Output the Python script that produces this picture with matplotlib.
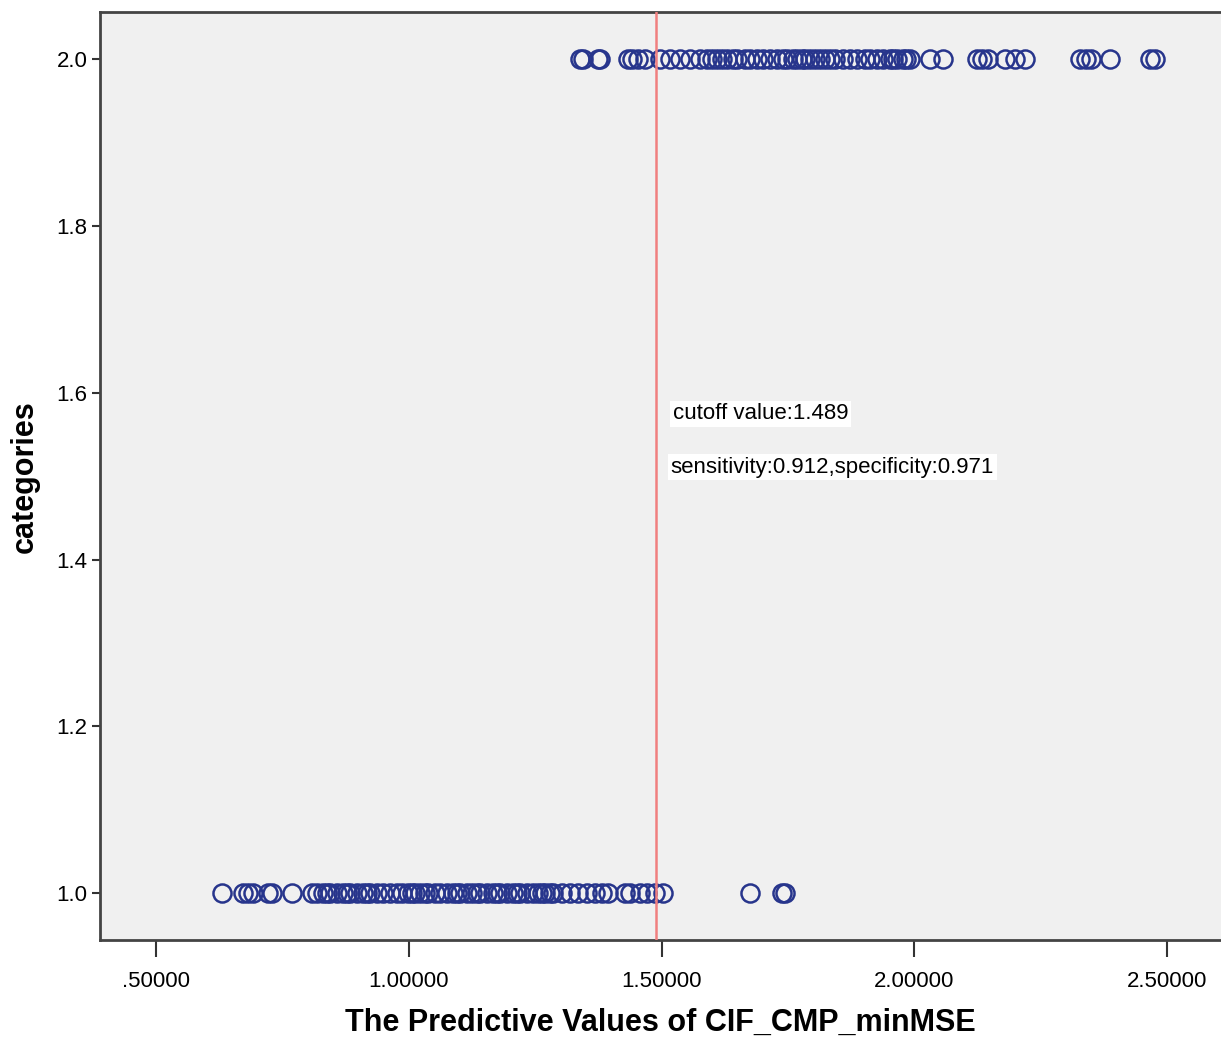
import matplotlib
matplotlib.use("Agg")
import matplotlib.pyplot as plt

# =====================================================
# DATA — values
# =====================================================
group2_values = [
    1.339, 1.345, 1.374, 1.378, 1.434, 1.442, 1.453, 1.467, 1.497, 1.517,
    1.537, 1.556, 1.576, 1.590, 1.600, 1.610, 1.620, 1.630, 1.642, 1.650,
    1.665, 1.675, 1.689, 1.701, 1.715, 1.729, 1.741, 1.749, 1.760, 1.768,
    1.778, 1.784, 1.794, 1.804, 1.814, 1.824, 1.834, 1.844, 1.859, 1.873,
    1.887, 1.903, 1.913, 1.927, 1.939, 1.952, 1.958, 1.966, 1.978, 1.984,
    1.992, 2.032, 2.057, 2.125, 2.135, 2.145, 2.180, 2.200, 2.220, 2.329,
    2.339, 2.349, 2.388, 2.467, 2.477,
]
group1_values = [
    0.630, 0.671, 0.681, 0.691, 0.721, 0.729, 0.768, 0.808, 0.818, 0.830,
    0.838, 0.844, 0.857, 0.869, 0.877, 0.883, 0.897, 0.909, 0.917, 0.923,
    0.937, 0.949, 0.962, 0.976, 0.986, 0.998, 1.006, 1.012, 1.022, 1.032,
    1.038, 1.051, 1.061, 1.075, 1.087, 1.095, 1.101, 1.115, 1.125, 1.135,
    1.141, 1.154, 1.166, 1.174, 1.180, 1.194, 1.206, 1.214, 1.220, 1.234,
    1.246, 1.255, 1.263, 1.269, 1.279, 1.285, 1.303, 1.319, 1.335, 1.352,
    1.368, 1.382, 1.394, 1.428, 1.438, 1.457, 1.471, 1.487, 1.503, 1.675,
    1.739, 1.745,
]
CUTOFF = 1.489
X_TICKS = [0.5, 1.0, 1.5, 2.0, 2.5]
X_TICK_LABELS = [".50000", "1.00000", "1.50000", "2.00000", "2.50000"]
Y_TICKS = [1.0, 1.2, 1.4, 1.6, 1.8, 2.0]
Y_TICK_LABELS = ["1.0", "1.2", "1.4", "1.6", "1.8", "2.0"]
ANNOT_CUTOFF = "cutoff value:1.489"
ANNOT_SENS = "sensitivity:0.912,specificity:0.971"

MARKER_COLOR = "#27358c"
LINE_COLOR = "#f07f7f"
SANS = ["Liberation Sans", "DejaVu Sans"]


def main():
    fig = plt.figure(figsize=(12.21, 10.37), dpi=100)
    ax = fig.add_axes([0.0819, 0.0935, 0.9181, 0.8945])
    ax.set_facecolor("#f0f0f0")

    ax.plot(group2_values, [2.0] * len(group2_values), linestyle="none",
            marker="o", markersize=13, markerfacecolor="none",
            markeredgecolor=MARKER_COLOR, markeredgewidth=1.8, zorder=3)
    ax.plot(group1_values, [1.0] * len(group1_values), linestyle="none",
            marker="o", markersize=13, markerfacecolor="none",
            markeredgecolor=MARKER_COLOR, markeredgewidth=1.8, zorder=3)

    ax.axvline(CUTOFF, color=LINE_COLOR, linewidth=1.8, zorder=4)

    # kotak putih di belakang teks anotasi
    box = dict(facecolor="white", edgecolor="none", pad=2)
    ax.text(1.522, 1.575, ANNOT_CUTOFF, fontsize=16, family=SANS,
            va="center", ha="left", bbox=box, zorder=5)
    ax.text(1.518, 1.511, ANNOT_SENS, fontsize=16, family=SANS,
            va="center", ha="left", bbox=box, zorder=5)

    ax.set_xlim(0.389, 2.607)
    ax.set_ylim(0.944, 2.056)

    ax.set_xticks(X_TICKS)
    ax.set_xticklabels(X_TICK_LABELS, family=SANS, fontsize=16)
    ax.set_yticks(Y_TICKS)
    ax.set_yticklabels(Y_TICK_LABELS, family=SANS, fontsize=16)
    ax.tick_params(axis="x", length=12, width=1.5, color="#333333", pad=10)
    ax.tick_params(axis="y", length=6, width=1.5, color="#333333", pad=3)

    for side in ["left", "bottom", "top"]:
        ax.spines[side].set_linewidth(2)
        ax.spines[side].set_color("#444444")
    ax.spines["right"].set_visible(False)

    ax.set_xlabel("The Predictive Values of CIF_CMP_minMSE", family=SANS,
                  fontsize=22, fontweight="bold", labelpad=12)
    ax.set_ylabel("categories", family=SANS, fontsize=22,
                  fontweight="bold", labelpad=12)

    fig.savefig("out.png", dpi=100)


if __name__ == "__main__":
    main()
